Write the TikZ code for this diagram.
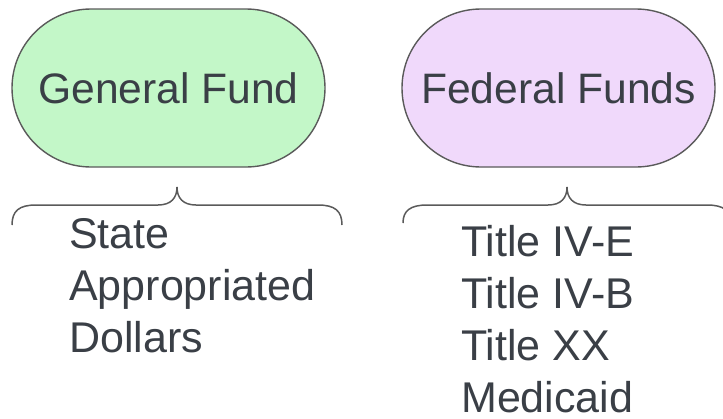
\documentclass[tikz,border=0pt]{standalone}
\usepackage{fontspec}
\setmainfont{Liberation Sans}
\definecolor{greenfill}{HTML}{C3F7C8}
\definecolor{purplefill}{HTML}{F0D9FB}
\definecolor{strokegray}{HTML}{5A5A5A}
\definecolor{textgray}{HTML}{3A3F46}
\begin{document}
\begin{tikzpicture}[x=1pt,y=-1pt,
  fundbox/.style={draw=strokegray, line width=1.4pt, rounded corners=79pt,
    minimum width=313pt, minimum height=158pt, inner sep=0pt,
    text=textgray, font=\fontsize{42.6}{50}\selectfont},
  listtext/.style={anchor=north west, inner sep=0pt, align=left,
    text=textgray, font=\fontsize{43}{52}\selectfont},
  bracepath/.style={draw=strokegray, line width=1.5pt}]
\useasboundingbox (0,0) rectangle (723,418);
\clip (0,0) rectangle (723,418);
\node[fundbox, fill=greenfill] (gf) at (168.5,88) {General Fund};
\node[fundbox, fill=purplefill] (ff) at (558.5,88) {Federal Funds};
% braces
\coordinate (gfcusp) at (177,187);
\coordinate (ffcusp) at (567,187);
\draw[bracepath] (12,225) .. controls (12,211) and (19,205) .. (36,205)
  -- (158,205) .. controls (171,205) and (177,198) .. (gfcusp)
  .. controls (177,198) and (183,205) .. (196,205)
  -- (318,205) .. controls (335,205) and (342,211) .. (342,225);
\draw[bracepath] (403,223) .. controls (403,211) and (410,205) .. (427,205)
  -- (548,205) .. controls (561,205) and (567,198) .. (ffcusp)
  .. controls (567,198) and (573,205) .. (586,205)
  -- (707,205) .. controls (724,205) and (731,211) .. (731,223);
\node[listtext] (gftext) at (69,218) {State\\Appropriated\\Dollars};
\node[listtext] (fftext) at (461,225) {Title IV-E\\Title IV-B\\Title XX\\Medicaid};
\end{tikzpicture}
\end{document}
